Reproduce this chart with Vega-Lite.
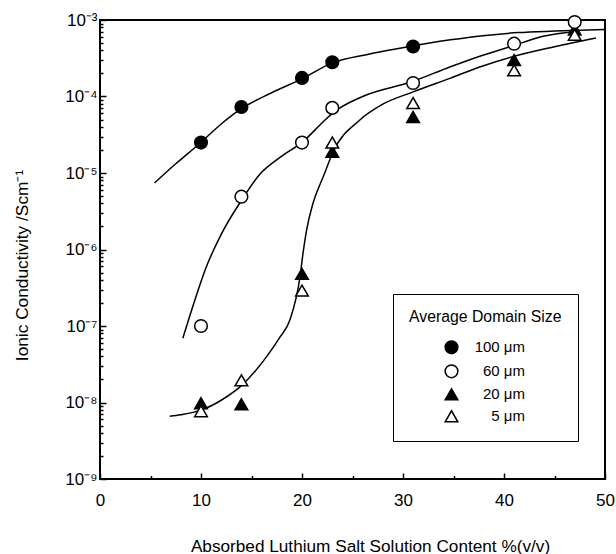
{
  "$schema": "https://vega.github.io/schema/vega-lite/v6.json",
  "width": 505,
  "height": 459,
  "autosize": "none",
  "padding": {"left": 100, "top": 20, "right": 11, "bottom": 75},
  "background": "white",
  "config": {
    "view": {"stroke": "black", "strokeWidth": 2},
    "font": "Liberation Sans",
    "axis": {
      "labelFont": "Liberation Sans",
      "titleFont": "Liberation Sans",
      "labelColor": "black",
      "titleColor": "black",
      "grid": false,
      "zindex": 1,
      "titleFontWeight": "normal"
    }
  },
  "datasets": {
    "pts": [
      {"content": 10, "sigma": 9.8e-9, "series": "20 μm"},
      {"content": 14, "sigma": 9.5e-9, "series": "20 μm"},
      {"content": 20, "sigma": 4.8e-7, "series": "20 μm"},
      {"content": 23, "sigma": 1.9e-5, "series": "20 μm"},
      {"content": 31, "sigma": 5.4e-5, "series": "20 μm"},
      {"content": 41, "sigma": 3.0e-4, "series": "20 μm"},
      {"content": 47, "sigma": 7.5e-4, "series": "20 μm"},
      {"content": 10, "sigma": 7.7e-9, "series": "5 μm"},
      {"content": 14, "sigma": 1.95e-8, "series": "5 μm"},
      {"content": 20, "sigma": 2.9e-7, "series": "5 μm"},
      {"content": 23, "sigma": 2.5e-5, "series": "5 μm"},
      {"content": 31, "sigma": 8.2e-5, "series": "5 μm"},
      {"content": 41, "sigma": 2.2e-4, "series": "5 μm"},
      {"content": 47, "sigma": 6.4e-4, "series": "5 μm"},
      {"content": 10, "sigma": 1.0e-7, "series": "60 μm"},
      {"content": 14, "sigma": 4.9e-6, "series": "60 μm"},
      {"content": 20, "sigma": 2.5e-5, "series": "60 μm"},
      {"content": 23, "sigma": 7.1e-5, "series": "60 μm"},
      {"content": 31, "sigma": 1.5e-4, "series": "60 μm"},
      {"content": 41, "sigma": 4.9e-4, "series": "60 μm"},
      {"content": 47, "sigma": 9.4e-4, "series": "60 μm"},
      {"content": 10, "sigma": 2.5e-5, "series": "100 μm"},
      {"content": 14, "sigma": 7.3e-5, "series": "100 μm"},
      {"content": 20, "sigma": 1.75e-4, "series": "100 μm"},
      {"content": 23, "sigma": 2.8e-4, "series": "100 μm"},
      {"content": 31, "sigma": 4.5e-4, "series": "100 μm"}
    ],
    "curves": [
      {"content": 5.4, "sigma": 7.41e-6, "curve": "A"},
      {"content": 7.5, "sigma": 1.32e-5, "curve": "A"},
      {"content": 9.9, "sigma": 2.45e-5, "curve": "A"},
      {"content": 12, "sigma": 4.37e-5, "curve": "A"},
      {"content": 14, "sigma": 6.92e-5, "curve": "A"},
      {"content": 17, "sigma": 1.12e-4, "curve": "A"},
      {"content": 20, "sigma": 1.70e-4, "curve": "A"},
      {"content": 23, "sigma": 2.75e-4, "curve": "A"},
      {"content": 26.5, "sigma": 3.55e-4, "curve": "A"},
      {"content": 29.7, "sigma": 4.27e-4, "curve": "A"},
      {"content": 34.7, "sigma": 5.50e-4, "curve": "A"},
      {"content": 37.9, "sigma": 6.24e-4, "curve": "A"},
      {"content": 41.4, "sigma": 6.84e-4, "curve": "A"},
      {"content": 45, "sigma": 7.16e-4, "curve": "A"},
      {"content": 50, "sigma": 7.50e-4, "curve": "A"},
      {"content": 8.2, "sigma": 6.92e-8, "curve": "B"},
      {"content": 9.3, "sigma": 2.0e-7, "curve": "B"},
      {"content": 10.4, "sigma": 5.37e-7, "curve": "B"},
      {"content": 12, "sigma": 1.58e-6, "curve": "B"},
      {"content": 14, "sigma": 4.37e-6, "curve": "B"},
      {"content": 15.8, "sigma": 9.55e-6, "curve": "B"},
      {"content": 18, "sigma": 1.66e-5, "curve": "B"},
      {"content": 20, "sigma": 2.51e-5, "curve": "B"},
      {"content": 22.1, "sigma": 4.68e-5, "curve": "B"},
      {"content": 23, "sigma": 6.03e-5, "curve": "B"},
      {"content": 26, "sigma": 1.0e-4, "curve": "B"},
      {"content": 31, "sigma": 1.58e-4, "curve": "B"},
      {"content": 34.7, "sigma": 2.45e-4, "curve": "B"},
      {"content": 37.9, "sigma": 3.47e-4, "curve": "B"},
      {"content": 40.6, "sigma": 4.47e-4, "curve": "B"},
      {"content": 44, "sigma": 6.17e-4, "curve": "B"},
      {"content": 47, "sigma": 7.08e-4, "curve": "B"},
      {"content": 6.9, "sigma": 6.61e-9, "curve": "C"},
      {"content": 8, "sigma": 6.92e-9, "curve": "C"},
      {"content": 10, "sigma": 7.94e-9, "curve": "C"},
      {"content": 12, "sigma": 1.07e-8, "curve": "C"},
      {"content": 14, "sigma": 1.66e-8, "curve": "C"},
      {"content": 16.5, "sigma": 3.98e-8, "curve": "C"},
      {"content": 17.8, "sigma": 7.08e-8, "curve": "C"},
      {"content": 18.8, "sigma": 1.20e-7, "curve": "C"},
      {"content": 19.8, "sigma": 4.37e-7, "curve": "C"},
      {"content": 20.1, "sigma": 8.91e-7, "curve": "C"},
      {"content": 20.45, "sigma": 1.78e-6, "curve": "C"},
      {"content": 21.1, "sigma": 4.07e-6, "curve": "C"},
      {"content": 22.1, "sigma": 8.91e-6, "curve": "C"},
      {"content": 23.1, "sigma": 1.91e-5, "curve": "C"},
      {"content": 25.7, "sigma": 4.90e-5, "curve": "C"},
      {"content": 28, "sigma": 7.94e-5, "curve": "C"},
      {"content": 31, "sigma": 1.15e-4, "curve": "C"},
      {"content": 34.7, "sigma": 1.74e-4, "curve": "C"},
      {"content": 37.9, "sigma": 2.51e-4, "curve": "C"},
      {"content": 40.6, "sigma": 3.24e-4, "curve": "C"},
      {"content": 45, "sigma": 4.47e-4, "curve": "C"},
      {"content": 49.1, "sigma": 5.82e-4, "curve": "C"}
    ]
  },
  "layer": [
    {
      "data": {"name": "curves"},
      "mark": {"type": "line", "interpolate": "monotone", "color": "black", "strokeWidth": 1.5, "clip": true},
      "encoding": {
        "x": {
          "field": "content", "type": "quantitative",
          "scale": {"domain": [0, 50], "nice": false, "zero": false},
          "axis": {"orient": "bottom", "values": [5, 15, 25, 35, 45], "domain": false, "offset": -3.5, "tickSize": 3.5, "tickColor": "black", "tickWidth": 1.5, "zindex": 1, "labels": false, "title": null}
        },
        "y": {
          "field": "sigma", "type": "quantitative",
          "scale": {"type": "log", "domain": [1e-9, 1e-3], "nice": false},
          "axis": {"orient": "left", "values": [2e-9,3e-9,4e-9,5e-9,6e-9,7e-9,8e-9,9e-9,2e-8,3e-8,4e-8,5e-8,6e-8,7e-8,8e-8,9e-8,2e-7,3e-7,4e-7,5e-7,6e-7,7e-7,8e-7,9e-7,2e-6,3e-6,4e-6,5e-6,6e-6,7e-6,8e-6,9e-6,2e-5,3e-5,4e-5,5e-5,6e-5,7e-5,8e-5,9e-5,2e-4,3e-4,4e-4,5e-4,6e-4,7e-4,8e-4,9e-4], "domain": false, "offset": -3, "tickSize": 3, "tickColor": "black", "tickWidth": 1.5, "zindex": 1, "labels": false, "title": null}
        },
        "detail": {"field": "curve"}
      }
    },
    {
      "data": {"name": "pts"},
      "mark": {"type": "point", "filled": true, "size": 160, "stroke": "black", "strokeWidth": 1.5, "opacity": 1},
      "encoding": {
        "x": {
          "field": "content", "type": "quantitative",
          "axis": {
            "orient": "bottom", "values": [0, 10, 20, 30, 40, 50], "domain": false, "offset": -6, "tickSize": 6, "tickColor": "black", "tickWidth": 1.5, "zindex": 1, "labelPadding": 13,
            "labelFontSize": 17, "labelFlush": false, "labelOverlap": false, "format": "d",
            "title": "Absorbed Luthium Salt Solution Content %(v/v)", "titleFontSize": 17.2,
            "titleX": 270, "titleY": 73, "titleBaseline": "middle"
          }
        },
        "y": {
          "field": "sigma", "type": "quantitative",
          "axis": {
            "orient": "left", "values": [1e-9, 1e-8, 1e-7, 1e-6, 1e-5, 1e-4, 1e-3], "domain": false, "offset": -6, "tickSize": 6, "tickColor": "black", "tickWidth": 1.5, "zindex": 1, "labelPadding": 3,
            "labelFontSize": 17, "labelFlush": false, "labelOverlap": false,
            "labelExpr": "'10⁻' + substring('⁰¹²³⁴⁵⁶⁷⁸⁹', -round(log(datum.value)/LN10), -round(log(datum.value)/LN10) + 1)",
            "title": "Ionic Conductivity /Scm⁻¹", "titleFontSize": 17.3,
            "titleX": -84, "titleY": 245, "titleBaseline": "middle"
          }
        },
        "fill": {
          "field": "series", "type": "nominal",
          "scale": {"domain": ["100 μm", "60 μm", "20 μm", "5 μm"], "range": ["black", "white", "black", "white"]},
          "legend": {
            "orient": "none", "legendX": 293, "legendY": 274, "title": "Average Domain Size",
            "titleFontSize": 15.8, "titleFontWeight": "normal", "titleFont": "Liberation Sans", "titleColor": "black",
            "labelFont": "Liberation Sans", "labelFontSize": 15, "labelColor": "black", "labelAlign": "right",
            "padding": 16, "strokeColor": "black", "fillColor": "white", "rowPadding": 5, "titlePadding": 14,
            "symbolOffset": 35, "labelOffset": 66, "symbolSize": 160, "symbolStrokeWidth": 1.5
          }
        },
        "stroke": {
          "field": "series", "type": "nominal",
          "scale": {"domain": ["100 μm", "60 μm", "20 μm", "5 μm"], "range": ["black", "black", "black", "black"]},
          "legend": {
            "orient": "none", "legendX": 293, "legendY": 274, "title": "Average Domain Size",
            "titleFontSize": 15.8, "titleFontWeight": "normal", "titleFont": "Liberation Sans", "titleColor": "black",
            "labelFont": "Liberation Sans", "labelFontSize": 15, "labelColor": "black", "labelAlign": "right",
            "padding": 16, "strokeColor": "black", "fillColor": "white", "rowPadding": 5, "titlePadding": 14,
            "symbolOffset": 35, "labelOffset": 66, "symbolSize": 160, "symbolStrokeWidth": 1.5
          }
        },
        "shape": {
          "field": "series", "type": "nominal",
          "scale": {"domain": ["100 μm", "60 μm", "20 μm", "5 μm"], "range": ["circle", "circle", "triangle-up", "triangle-up"]},
          "legend": {
            "orient": "none", "legendX": 293, "legendY": 274, "title": "Average Domain Size",
            "titleFontSize": 15.8, "titleFontWeight": "normal", "titleFont": "Liberation Sans", "titleColor": "black",
            "labelFont": "Liberation Sans", "labelFontSize": 15, "labelColor": "black", "labelAlign": "right",
            "padding": 16, "strokeColor": "black", "fillColor": "white", "rowPadding": 5, "titlePadding": 14,
            "symbolOffset": 35, "labelOffset": 66, "symbolSize": 160, "symbolStrokeWidth": 1.5
          }
        }
      }
    }
  ],
  "resolve": {"axis": {"x": "independent", "y": "independent"}}
}
